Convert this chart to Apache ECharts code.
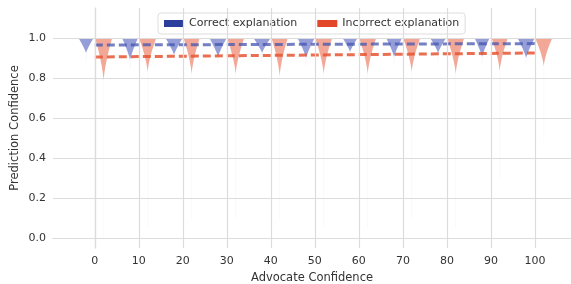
<!DOCTYPE html>
<html>
<head>
<meta charset="utf-8">
<script src="https://cdn.jsdelivr.net/npm/echarts@6/dist/echarts.min.js"></script>
<style>
  html, body { margin: 0; padding: 0; background: #fff; }
  #main { width: 571px; height: 284px; }
</style>
</head>
<body>
<div id="main"></div>
<script>
// advocate confidence categories
var categories = [0, 10, 20, 30, 40, 50, 60, 70, 80, 90, 100];
var xTicks = [0, 10, 20, 30, 40, 50, 60, 70, 80, 90, 100];
var yTicks = [0.0, 0.2, 0.4, 0.6, 0.8, 1.0];

// violins: top is at 1.0, solid body ends at "tip", faint tail goes to "tail"
var correctTip   = [0.925, 0.89, 0.915, 0.905, 0.925, 0.90, 0.93, 0.905, 0.925, 0.905, 0.90];
var correctTail  = [0.88, 0.85, 0.88, 0.87, 0.88, 0.86, 0.88, 0.87, 0.88, 0.87, 0.87];
var correctWidth = [3.4, 3.6, 3.9, 3.9, 3.9, 3.9, 3.4, 3.6, 3.6, 3.4, 3.9];

var incorrectTip   = [0.78, 0.825, 0.815, 0.815, 0.805, 0.815, 0.815, 0.825, 0.815, 0.83, 0.855];
var incorrectTail  = [0.0, 0.05, 0.1, 0.1, 0.1, 0.05, 0.05, 0.1, 0.05, 0.3, 0.5];
var incorrectWidth = [3.9, 3.9, 3.7, 3.9, 3.7, 3.9, 3.9, 3.9, 3.9, 3.7, 3.9];

// regression lines
var trendX = [0, 100];
var correctTrend = [0.965, 0.972];
var incorrectTrend = [0.905, 0.925];

var offset = 2; // dodge of the two hues

function violinData(tip, tail, width, dx) {
    return categories.map(function (c, i) {
        return [c + dx, 1.0, tip[i], tail[i], width[i]];
    });
}

function makeViolin(fill, power) {
    return function (params, api) {
        var x = api.value(0), top = api.value(1), tip = api.value(2);
        var tail = api.value(3), w = api.value(4);
        var pts = [], back = [];
        var n = 24;
        for (var k = 0; k <= n; k++) {
            var t = k / n;
            var v = top - t * (top - tip);
            var hw = w / 2 * Math.pow(1 - t, power);
            pts.push(api.coord([x - hw, v]));
            back.unshift(api.coord([x + hw, v]));
        }
        var p0 = api.coord([x, tip]);
        var p1 = api.coord([x, tail]);
        return {
            type: 'group',
            children: [{
                type: 'polygon',
                shape: { points: pts.concat(back) },
                style: { fill: fill, stroke: null }
            }, {
                type: 'line',
                shape: { x1: p0[0], y1: p0[1], x2: p1[0], y2: p1[1] },
                style: { stroke: fill, lineWidth: 1, opacity: 0.08 }
            }]
        };
    };
}

var gridLines = yTicks.map(function (v) { return { yAxis: v }; })
    .concat(xTicks.map(function (v) { return { xAxis: v }; }));

var font = 'DejaVu Sans';
var myChart = echarts.init(document.getElementById('main'));
var option = {
    animation: false,
    textStyle: { fontFamily: font },
    grid: { left: 53, right: 0, top: 8, bottom: 36, containLabel: false, outerBoundsMode: 'none' },
    legend: {
        top: 13,
        left: 158,
        itemWidth: 20,
        itemHeight: 7,
        itemGap: 20,
        padding: [5, 6, 5, 6],
        borderColor: '#dddddd',
        borderWidth: 1,
        borderRadius: 3,
        backgroundColor: '#ffffff',
        icon: 'rect',
        textStyle: { color: '#333', fontSize: 11, fontFamily: font },
        data: ['Correct explanation', 'Incorrect explanation']
    },
    xAxis: {
        type: 'value',
        min: -9.5,
        max: 108.2,
        name: 'Advocate Confidence',
        nameLocation: 'middle',
        nameGap: 21,
        nameTextStyle: { color: '#333', fontSize: 11.5, fontFamily: font },
        axisLine: { show: true, lineStyle: { color: '#d0d0d0', width: 1.2 } },
        axisTick: { show: false },
        splitLine: { show: false },
        axisLabel: { customValues: xTicks, color: '#333', fontSize: 11, margin: 8, fontFamily: font }
    },
    yAxis: {
        type: 'value',
        min: -0.05,
        max: 1.15,
        name: 'Prediction Confidence',
        nameLocation: 'middle',
        nameGap: 32,
        nameMoveOverlap: false,
        nameTextStyle: { color: '#333', fontSize: 11.5, fontFamily: font },
        axisLine: { show: true, lineStyle: { color: '#d0d0d0', width: 1.2 } },
        axisTick: { show: false },
        splitLine: { show: false },
        axisLabel: {
            customValues: yTicks, color: '#333', fontSize: 11, margin: 7, fontFamily: font,
            formatter: function (v) { return v.toFixed(1); }
        }
    },
    series: [{
        name: 'grid',
        type: 'line',
        data: [],
        silent: true,
        z: 0,
        markLine: {
            silent: true,
            symbol: 'none',
            label: { show: false },
            lineStyle: { color: '#dcdcdc', width: 1.2, type: 'solid' },
            data: gridLines
        }
    }, {
        name: 'Correct explanation',
        type: 'custom',
        itemStyle: { color: '#2c3e9c' },
        renderItem: makeViolin('rgba(44,62,180,0.5)', 1.2),
        data: violinData(correctTip, correctTail, correctWidth, -offset),
        z: 2
    }, {
        name: 'Incorrect explanation',
        type: 'custom',
        itemStyle: { color: '#e2472a' },
        renderItem: makeViolin('rgba(232,80,48,0.5)', 1.5),
        data: violinData(incorrectTip, incorrectTail, incorrectWidth, offset),
        z: 2
    }, {
        name: 'correct trend',
        type: 'line',
        data: trendX.map(function (x, i) { return [x, correctTrend[i]]; }),
        showSymbol: false,
        lineStyle: { color: 'rgba(70,85,175,0.75)', width: 3, type: [8, 4] },
        z: 3
    }, {
        name: 'incorrect trend',
        type: 'line',
        data: trendX.map(function (x, i) { return [x, incorrectTrend[i]]; }),
        showSymbol: false,
        lineStyle: { color: 'rgba(230,85,50,0.85)', width: 3, type: [8, 4] },
        z: 3
    }]
};
myChart.setOption(option);
</script>
</body>
</html>
